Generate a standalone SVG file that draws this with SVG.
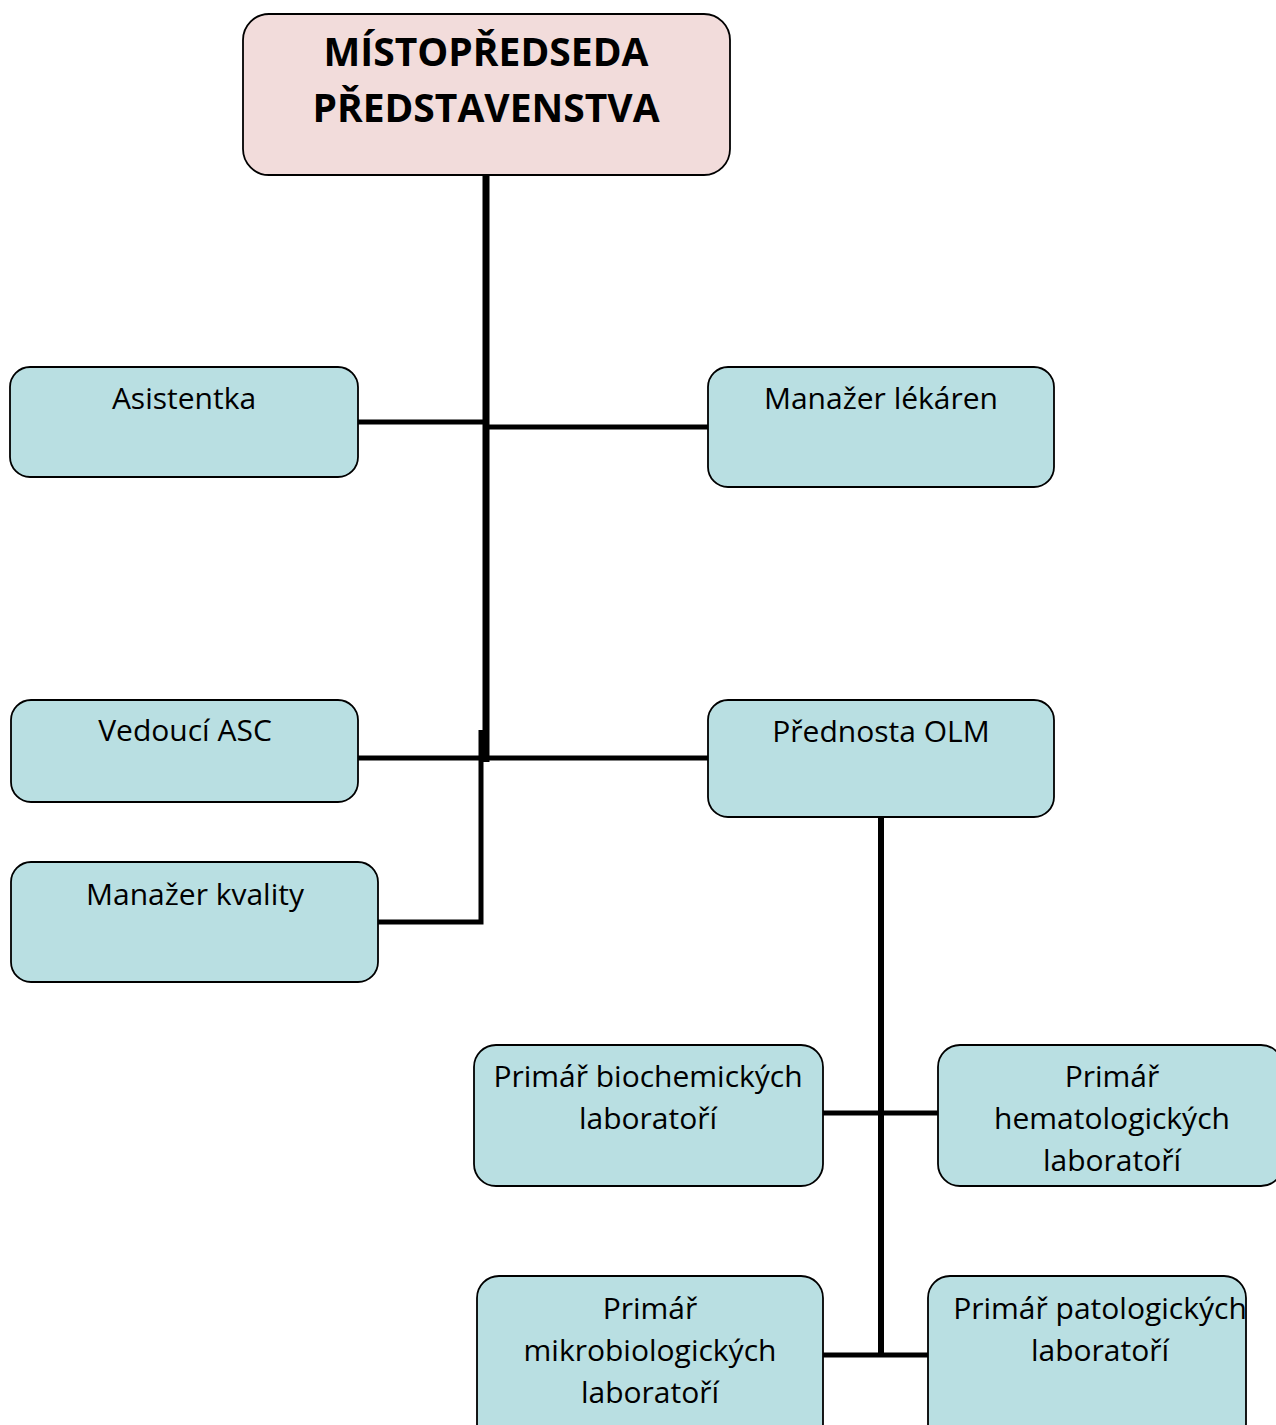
<svg xmlns="http://www.w3.org/2000/svg" width="1276" height="1425" viewBox="0 0 1276 1425">
<style>
.box{fill:#b9dfe2;stroke:#000;stroke-width:1.8}
.top{fill:#f2dcdb;stroke:#000;stroke-width:1.8}
text{font-family:"Open Sans","Liberation Sans",sans-serif;font-size:30px;fill:#000;text-anchor:middle}
.t{font-weight:bold;font-size:39px}
.c{stroke:#000;fill:none}
</style>
<rect width="1276" height="1425" fill="#fff"/>
<g id="connectors">
<line class="c" x1="486" y1="175" x2="486" y2="762" stroke-width="7"/>
<line class="c" x1="358" y1="422" x2="486" y2="422" stroke-width="5"/>
<line class="c" x1="486" y1="427" x2="708" y2="427" stroke-width="5"/>
<line class="c" x1="358" y1="758" x2="708" y2="758" stroke-width="5"/>
<polyline class="c" points="481,730 481,922 378,922" stroke-width="5"/>
<line class="c" x1="881" y1="817" x2="881" y2="1357" stroke-width="6"/>
<line class="c" x1="823" y1="1113" x2="938" y2="1113" stroke-width="5"/>
<line class="c" x1="823" y1="1355" x2="928" y2="1355" stroke-width="5"/>
</g>
<g id="n-top">
<rect class="top" x="243" y="14" width="487" height="161" rx="26"/>
<text class="t" x="486" y="66">MÍSTOPŘEDSEDA</text>
<text class="t" x="486" y="122">PŘEDSTAVENSTVA</text>
</g>
<g id="n-asistentka">
<rect class="box" x="10" y="367" width="348" height="110" rx="20"/>
<text x="184" y="409">Asistentka</text>
</g>
<g id="n-lekaren">
<rect class="box" x="708" y="367" width="346" height="120" rx="20"/>
<text x="881" y="409">Manažer lékáren</text>
</g>
<g id="n-asc">
<rect class="box" x="11" y="700" width="347" height="102" rx="20"/>
<text x="185" y="741">Vedoucí ASC</text>
</g>
<g id="n-olm">
<rect class="box" x="708" y="700" width="346" height="117" rx="20"/>
<text x="881" y="742">Přednosta OLM</text>
</g>
<g id="n-kvalita">
<rect class="box" x="11" y="862" width="367" height="120" rx="20"/>
<text x="195" y="905">Manažer kvality</text>
</g>
<g id="n-biochem">
<rect class="box" x="474" y="1045" width="349" height="141" rx="22"/>
<text x="648" y="1087">Primář biochemických</text>
<text x="648" y="1129">laboratoří</text>
</g>
<g id="n-hemat">
<rect class="box" x="938" y="1045" width="345" height="141" rx="22"/>
<text x="1112" y="1087">Primář</text>
<text x="1112" y="1129">hematologických</text>
<text x="1112" y="1171">laboratoří</text>
</g>
<g id="n-mikro">
<rect class="box" x="477" y="1276" width="346" height="170" rx="22"/>
<text x="650" y="1319">Primář</text>
<text x="650" y="1361">mikrobiologických</text>
<text x="650" y="1403">laboratoří</text>
</g>
<g id="n-pato">
<rect class="box" x="928" y="1276" width="318" height="170" rx="22"/>
<text x="1100" y="1319">Primář patologických</text>
<text x="1100" y="1361">laboratoří</text>
</g>
</svg>
